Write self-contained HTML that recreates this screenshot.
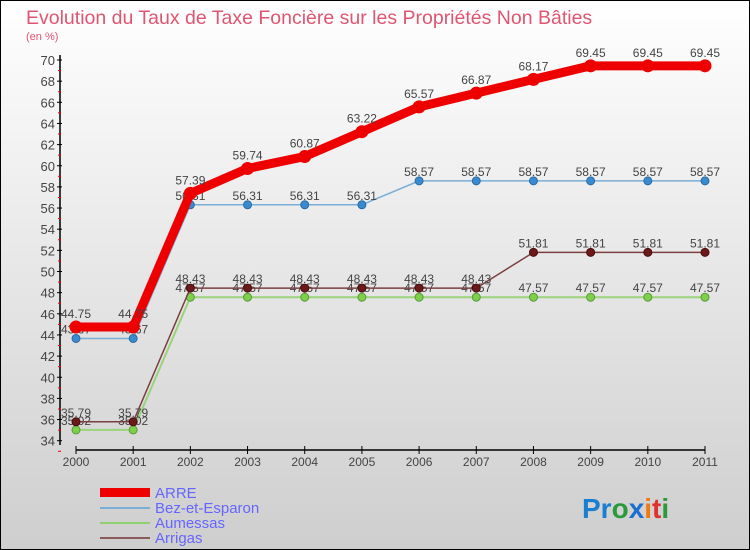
<!DOCTYPE html>
<html><head><meta charset="utf-8"><style>
body{margin:0}
#c{width:750px;height:550px;position:relative;overflow:hidden;font-family:"Liberation Sans",sans-serif}
</style></head><body>
<div id="c">
<svg width="750" height="550" xmlns="http://www.w3.org/2000/svg">
<defs><linearGradient id="bg" x1="0" y1="0" x2="0" y2="1"><stop offset="0" stop-color="#ffffff"/><stop offset="1" stop-color="#cecece"/></linearGradient></defs>
<rect x="0.5" y="0.5" width="749" height="549" fill="url(#bg)" stroke="#000"/>
<text x="26" y="24" font-size="19.5" fill="#e05570">Evolution du Taux de Taxe Foncière sur les Propriétés Non Bâties</text>
<text x="26" y="40" font-size="11" fill="#e05570">(en %)</text>
<g id="axes"></g>
<g id="series"></g>
<g font-size="15" fill="#6666ff">
<rect x="100" y="488" width="50" height="9" fill="#e00"/>
<text x="155" y="498">ARRE</text>
<rect x="100" y="507" width="50" height="2" fill="#7aaed6"/>
<text x="155" y="513">Bez-et-Esparon</text>
<rect x="100" y="522" width="50" height="2" fill="#8fd070"/>
<text x="155" y="528">Aumessas</text>
<rect x="100" y="537" width="50" height="2" fill="#8b5a5a"/>
<text x="155" y="543">Arrigas</text>
</g>
<text x="582" y="518" font-size="28" font-weight="bold"><tspan fill="#1a7fd0">Pr</tspan><tspan fill="#2a9a3a">o</tspan><tspan fill="#1a6fd0">x</tspan><tspan fill="#f07a10">i</tspan><tspan fill="#e03030">t</tspan><tspan fill="#2a9a3a">i</tspan></text>
</svg>
</div>
<script>
const years=[2000,2001,2002,2003,2004,2005,2006,2007,2008,2009,2010,2011];
const arre=[44.75,44.75,57.39,59.74,60.87,63.22,65.57,66.87,68.17,69.45,69.45,69.45];
const bez=[43.67,43.67,56.31,56.31,56.31,56.31,58.57,58.57,58.57,58.57,58.57,58.57];
const aumessas=[35.02,35.02,47.57,47.57,47.57,47.57,47.57,47.57,47.57,47.57,47.57,47.57];
const arrigas=[35.79,35.79,48.43,48.43,48.43,48.43,48.43,48.43,51.81,51.81,51.81,51.81];
const yTicks=[34,36,38,40,42,44,46,48,50,52,54,56,58,60,62,64,66,68,70];
const NS='http://www.w3.org/2000/svg';
const X=i=>76+i*(705-76)/(years.length-1);
const Y=v=>60+(70-v)*(380.7/36);
function mk(t,a,p){const e=document.createElementNS(NS,t);for(const k in a)e.setAttribute(k,a[k]);p.appendChild(e);return e;}
const ax=document.getElementById('axes');
let l=mk('line',{x1:60,y1:55,x2:60,y2:445,stroke:'#000','stroke-width':1.5},ax);


l=mk('line',{x1:76,y1:450,x2:705,y2:450,stroke:'#000','stroke-width':1.5},ax);


yTicks.forEach(v=>{
 mk('line',{x1:57,x2:62,y1:Y(v),y2:Y(v),stroke:'#000'},ax);
 mk('line',{x1:58,x2:61,y1:Y(v-1),y2:Y(v-1),stroke:'#e00'},ax);
 const t=mk('text',{x:55,y:Y(v)+5,'text-anchor':'end','font-size':13,fill:'#444'},ax);
 t.textContent=v;
 
 
});
years.forEach((yr,i)=>{
 mk('line',{x1:X(i),x2:X(i),y1:446,y2:454,stroke:'#000'},ax);
 const t=mk('text',{x:X(i),y:466,'text-anchor':'middle','font-size':12,fill:'#444'},ax);
 t.textContent=yr;
 
 
});
const sg=document.getElementById('series');
function draw(vals,name,color,w,r,dot,dotStroke,labOff){
 const g=mk('g',{},sg);
 
 
 const p=mk('polyline',{points:vals.map((v,i)=>X(i)+','+Y(v)).join(' '),fill:'none',stroke:color,'stroke-width':w,'stroke-linejoin':'round'},g);
 
 
 vals.forEach((v,i)=>{
  const c=mk('circle',{cx:X(i),cy:Y(v),r:r,fill:dot,stroke:dotStroke,'stroke-width':1},g);
  
  
  const t=mk('text',{x:X(i),y:Y(v)+labOff,'text-anchor':'middle','font-size':12,fill:'#444'},g);
  t.textContent=v.toFixed(2);
  
  
 });
}
draw(aumessas,'aumessas','#9ad47a',2,4,'#7ed04a','#5a9a3a',-5);
draw(arrigas,'arrigas','#7a4040',1.5,4,'#6a1a1a','#4a0a0a',-5);
draw(bez,'bez-et-esparon','#7aaed6',1.5,4,'#3a8ad0','#2a6aa0',-5);
draw(arre,'arre','#e00',9,6,'#e00','#e00',-9);
</script>
</body></html>
